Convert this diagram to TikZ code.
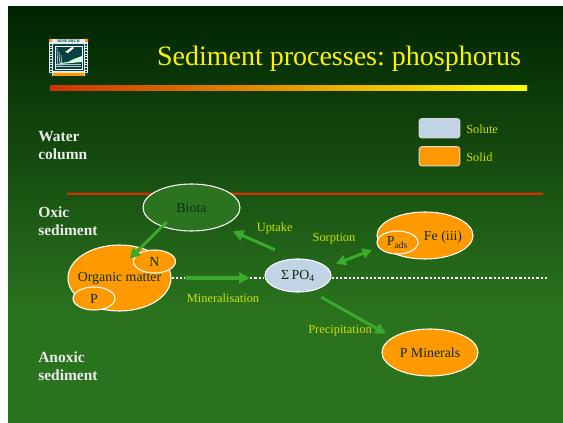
\documentclass[tikz,border=0pt]{standalone}
\usepackage{fontspec}
\setmainfont{Liberation Serif}
\usetikzlibrary{arrows.meta,shapes.geometric}
\definecolor{solidfill}{HTML}{FF9900}
\definecolor{solutefill}{HTML}{C0D4E6}
\definecolor{biotafill}{HTML}{2B731F}
\definecolor{flowgreen}{HTML}{3CAA2C}
\definecolor{redline}{HTML}{CC3300}
\definecolor{labelgreen}{HTML}{CCE000}
\definecolor{inktext}{HTML}{0C300C}
\definecolor{slidetop}{RGB}{1,36,0}
\definecolor{slidebottom}{RGB}{42,114,30}
\definecolor{logoteal}{RGB}{6,66,66}
\tikzset{
  oval/.style n args={3}{ellipse,draw=white,line width=.8pt,fill=#1,inner sep=-6pt,
    minimum width=#2*.75pt,minimum height=#3*.75pt,text=inktext,font=\fontsize{10.4}{12}\selectfont},
  zone/.style={anchor=west,align=left,text=white!92!black,inner sep=0pt,
    font=\fontsize{11.6}{13.5}\selectfont\bfseries},
  procname/.style={text=labelgreen,inner sep=0pt,font=\fontsize{9.3}{11}\selectfont},
  keybox/.style={draw=white!85!black,line width=.7pt,rounded corners=2pt,fill=#1,inner sep=0pt,
    minimum width=30.5pt,minimum height=14.5pt},
  flow/.style={draw=flowgreen,line width=2.2pt,-{Triangle[length=8pt,width=8pt]}},
  flowboth/.style={draw=flowgreen,line width=2.2pt,{Triangle[length=7.5pt,width=7.5pt]}-{Triangle[length=7.5pt,width=7.5pt]}},
  horizon/.style={draw=white,line width=1.5pt,dash pattern=on 1.7pt off 1.5pt}
}
\frenchspacing
\begin{document}
\begin{tikzpicture}[x=.75pt,y=-.75pt]
  \useasboundingbox (0,0) rectangle (563,423);
  % slide
  \fill[white] (0,0) rectangle (563,423);
  \shade[top color=slidetop,bottom color=slidebottom] (8,7) rectangle (563,310);
  \fill[slidebottom] (8,309.5) rectangle (563,423);
  \draw[redline,line width=1.7pt] (67,193.7) -- (543,193.72);

  % logo
  \fill[white!90!logoteal] (49,39) rectangle (88,76);
  \fill[solidfill] (49,39) rectangle (52,42) (85,39) rectangle (88,42) (53,73) rectangle (84,76);
  \fill[logoteal] (53,44) rectangle (84,71);
  \draw[logoteal,line width=2pt,dash pattern=on 1.2pt off .8pt] (51,44) -- (51,71) (86,44) -- (86,71);
  \fill[logoteal] (49,73) rectangle (52,76) (85,73) rectangle (88,76);
  \fill[white!85!green] (60,63) -- (68,62) -- (74,59) -- (82,56) -- (82,62) -- (60,64) -- cycle;
  \draw[white,line width=.4pt] (55,46) -- (82,46) -- (82,69) -- (55,69) -- cycle;
  \draw[white!70!logoteal,line width=.5pt] (57,48) -- (58,67) (59,52) -- (60,67) (61,55) -- (62,67);
  \draw[white!70!logoteal,line width=.5pt] (56,64) -- (81,64) (56,66.5) -- (81,66.5);
  \fill[white] (65,52) -- (72,47) -- (74,48) -- (68,53) -- cycle;
  \node[inner sep=0pt,text=logoteal,font=\fontsize{3}{3}\selectfont\bfseries] (logotext) at (68.5,41) {RESEARCH};

  \node[text=yellow,inner sep=0pt,font=\fontsize{21}{25}\selectfont] (title) at (339,59) {Sediment processes: phosphorus};
  \shade[left color=redline,right color=yellow] (50,86) rectangle (527,91);

  % key
  \node[keybox=solutefill] (solute) at (439.5,128.3) {};
  \node[keybox=solidfill] (solid) at (439.5,156.3) {};
  \node[procname,anchor=west] (solutelabel) at (466,129) {Solute};
  \node[procname,anchor=west] (solidlabel) at (466,157) {Solid};

  % zones
  \node[zone] (water) at (38,146) {Water\\column};
  \node[zone] (oxic) at (38,221) {Oxic\\sediment};
  \node[zone] (anoxic) at (38,366) {Anoxic\\sediment};

  % pools
  \node[oval={biotafill}{97}{47}] (biota) at (191.5,207.5) {Biota};
  \node[oval={solidfill}{103}{66}] (organic) at (119.5,278) {Organic matter};
  \node[oval={solidfill}{42}{23}] (orgN) at (154.5,261.5) {N};
  \node[oval={solidfill}{42}{23}] (orgP) at (94,298.5) {P};
  \node[oval={solutefill}{66}{33}] (po4) at (298,275.5) {Σ\,PO\textsubscript{4}};
  \node[oval={solidfill}{96}{47}] (fe) at (425,235.5) {};
  \node[inner sep=0pt,text=inktext,font=\fontsize{10.4}{12}\selectfont] (felabel) at (443,236.7) {Fe (iii)};
  \node[oval={solidfill}{41}{23}] (pads) at (397.5,242.5) {P\textsubscript{ads}};
  \node[oval={solidfill}{96}{47}] (minerals) at (430,352.5) {P Minerals};
  \coordinate (horizonend) at (548,277.7);

  % horizon
  \draw[horizon,shorten >=60pt] (organic.east) -- (organic.east -| po4.west);
  \draw[horizon,shorten <=59pt] (organic.east) -- (organic.east -| po4.west);
  \draw[horizon] (horizonend -| po4.east) -- (horizonend);

  % processes
  \draw[flow,shorten <=-5pt,shorten >=-12pt] (biota.-147) -- (organic.55);
  \draw[flow,line width=3pt,shorten <=10.5pt,shorten >=11pt] (organic.east) -- ([yshift=.05pt]organic.east -| po4.west);
  \draw[flow,shorten <=16.5pt,shorten >=9pt] (po4.100) -- (biota.-32);
  \draw[flowboth,shorten <=7pt,shorten >=7.5pt] (po4.16) -- (fe.194);
  \draw[flow,shorten <=9pt,shorten >=5.5pt] (po4.-51) -- (minerals.158);

  \node[procname] (uptake) at (274.7,229) {Uptake};
  \node[procname] (sorption) at (334,238.3) {Sorption};
  \node[procname] (mineralisation) at (223,298) {Mineralisation};
  \node[procname] (precipitation) at (340,330.7) {Precipitation};
\end{tikzpicture}
\end{document}
